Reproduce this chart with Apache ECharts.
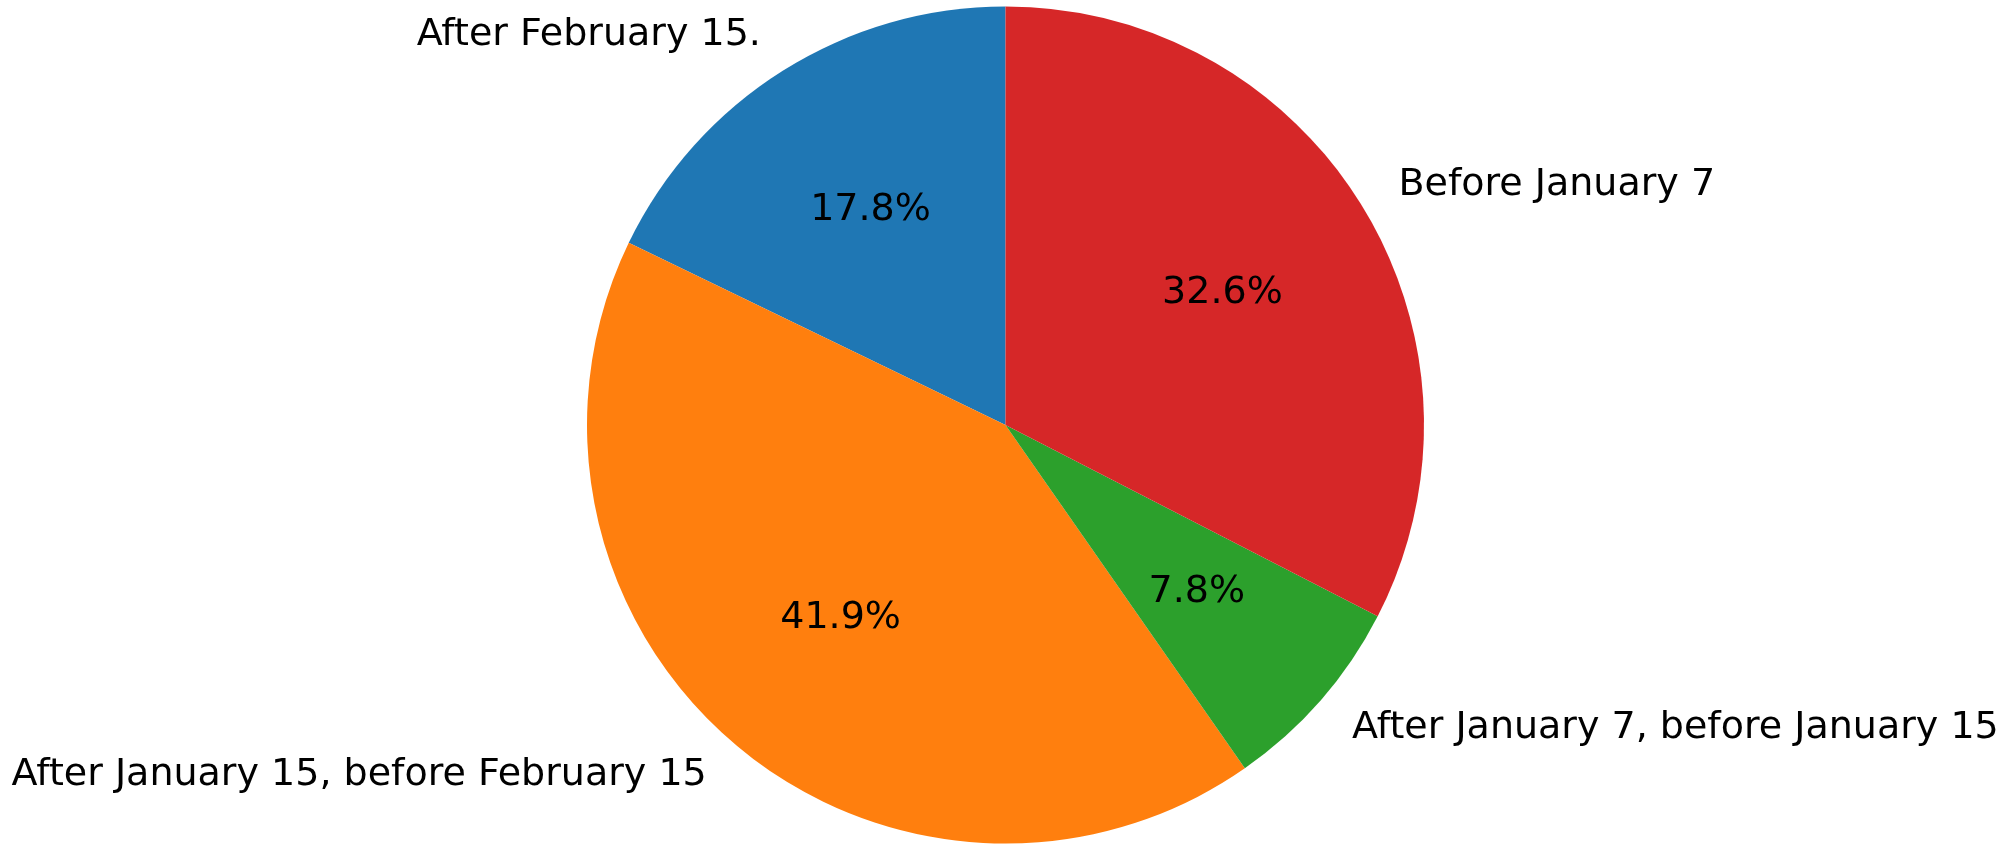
<!DOCTYPE html>
<html>
<head>
<meta charset="utf-8">
<script src="https://cdn.jsdelivr.net/npm/echarts@6/dist/echarts.min.js"></script>
<style>
html,body{margin:0;padding:0;background:#fff;}
#chart{width:2010px;height:845px;}
</style>
</head>
<body>
<div id="chart"></div>
<script>
// Data (counterclockwise from 12 o'clock, as in the reference)
const categories = [
  "After February 15.",
  "After January 15, before February 15",
  "After January 7, before January 15",
  "Before January 7"
];
const counts = [23, 54, 10, 42];
const colors = ["#1f77b4", "#ff7f0e", "#2ca02c", "#d62728"];

// Layout / style settings (kept separate from data)
const CX = 1005.5, CY = 425, R = 418.5;
const FONT = "DejaVu Sans";
const FS = 38;

const total = counts.reduce((a, b) => a + b, 0);

const chart = echarts.init(document.getElementById('chart'), null, {renderer: 'canvas'});
chart.setOption({
  animation: false,
  backgroundColor: '#ffffff',
  series: [
    {
      type: 'pie',
      center: [CX, CY],
      radius: [0, R],
      startAngle: 90,
      clockwise: false,
      avoidLabelOverlap: false,
      silent: true,
      itemStyle: {borderWidth: 0},
      label: {
        show: true,
        position: 'outside',
        fontFamily: FONT,
        fontSize: FS,
        color: '#000',
        distanceToLabelLine: 0
      },
      labelLine: {show: false, length: R * 0.1, length2: 0},
      data: categories.map((c, i) => ({
        name: c,
        value: counts[i],
        itemStyle: {color: colors[i]}
      }))
    },
    {
      type: 'pie',
      center: [CX, CY],
      radius: [0, R * 1.2],
      startAngle: 90,
      clockwise: false,
      avoidLabelOverlap: false,
      silent: true,
      z: 3,
      itemStyle: {color: 'rgba(0,0,0,0)', borderWidth: 0},
      label: {
        show: true,
        position: 'inside',
        fontFamily: FONT,
        fontSize: FS,
        color: '#000',
        formatter: p => (p.value / total * 100).toFixed(1) + '%'
      },
      labelLine: {show: false},
      data: categories.map((c, i) => ({name: c, value: counts[i]}))
    }
  ]
});
</script>
</body>
</html>
